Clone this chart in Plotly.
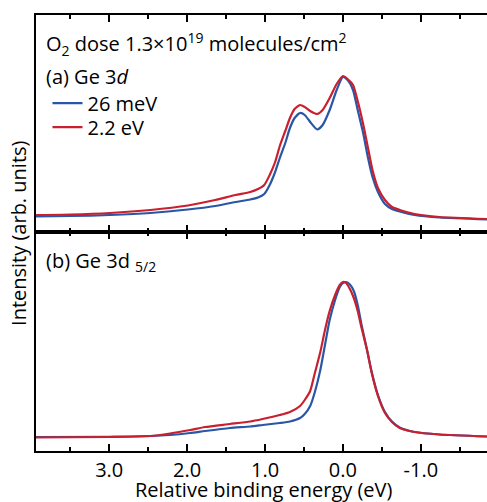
import plotly.graph_objects as go

# ---- data (arb. units) ----
energy_a = [3.94, 3.50, 2.99, 2.47, 1.99, 1.64, 1.38, 1.19, 1.09, 1.01, 0.94, 0.87, 0.81, 0.74,
            0.68, 0.62, 0.55, 0.49, 0.42, 0.33, 0.26, 0.17, 0.08, 0.00, -0.06, -0.13, -0.19,
            -0.26, -0.32, -0.38, -0.45, -0.54, -0.63, -0.73, -0.92, -1.24, -1.85]
a_26meV = [15.5, 16, 17, 19, 22.5, 26, 30, 32.5, 34.5, 38, 47, 60, 74, 89, 104, 114, 119, 117,
           110, 102.5, 107, 122, 142, 155, 152, 142, 122, 99, 75, 55, 40, 28, 23, 20.5, 17,
           14.5, 12.5]
a_2p2eV = [17, 17.5, 19, 22, 26.5, 32, 37, 40, 43, 47, 57, 70, 86, 101, 114, 123, 127, 125, 121,
           118, 122, 134, 148, 156, 153, 147, 131, 108, 85, 62, 44, 32, 25, 22, 18, 15, 13]

energy_b = [3.94, 2.99, 2.47, 2.22, 1.96, 1.77, 1.45, 1.19, 1.03, 0.81, 0.68, 0.55, 0.49, 0.42,
            0.36, 0.29, 0.23, 0.17, 0.10, 0.04, 0.00, -0.04, -0.09, -0.14, -0.19, -0.24, -0.31,
            -0.37, -0.45, -0.54, -0.63, -0.73, -0.92, -1.24, -1.85]
b_26meV = [14, 14.2, 15, 16, 18, 20, 23, 24.5, 26, 28, 29.5, 33, 37, 45, 59, 81, 106, 131, 151,
           164, 168, 169, 166.5, 160, 146, 126, 101, 79, 56, 39, 29.5, 23.5, 19, 16.5, 14.5]
b_2p2eV = [13.5, 14, 15, 17.5, 21, 24, 27, 29.5, 32, 36, 39, 45, 51, 60, 78, 99, 121, 140, 156,
           166, 169, 168, 162, 153, 140, 123, 101, 78, 55, 38, 29, 23, 19, 16.5, 14.5]

major_ticks = [3.0, 2.0, 1.0, 0.0, -1.0]
major_labels = ["3.0", "2.0", "1.0", "0.0", "-1.0"]
minor_ticks = [3.5, 2.5, 1.5, 0.5, -0.5, -1.5]

x_range = [3.94, -1.85]
ya_range = [0, 217]
yb_range = [0, 219]

BLUE = "#2a56a6"
RED = "#c8202f"
FONT = "Open Sans"
FS = 20

fig = go.Figure()
fig.add_trace(go.Scatter(x=energy_a, y=a_26meV, mode="lines", name="26 meV", legend="legend",
                         line=dict(color=BLUE, width=2.2, shape="spline", smoothing=0.6),
                         xaxis="x", yaxis="y"))
fig.add_trace(go.Scatter(x=energy_a, y=a_2p2eV, mode="lines", name="2.2 eV", legend="legend2",
                         line=dict(color=RED, width=2.2, shape="spline", smoothing=0.6),
                         xaxis="x", yaxis="y"))
fig.add_trace(go.Scatter(x=energy_b, y=b_26meV, mode="lines", showlegend=False,
                         line=dict(color=BLUE, width=2.2, shape="spline", smoothing=0.6),
                         xaxis="x2", yaxis="y2"))
fig.add_trace(go.Scatter(x=energy_b, y=b_2p2eV, mode="lines", showlegend=False,
                         line=dict(color=RED, width=2.2, shape="spline", smoothing=0.6),
                         xaxis="x2", yaxis="y2"))

split = (yb_range[1] - yb_range[0]) / (ya_range[1] - ya_range[0] + yb_range[1] - yb_range[0])
legcommon = dict(xanchor="left", yanchor="middle", bgcolor="rgba(0,0,0,0)",
                 font=dict(size=FS), itemwidth=30)
xcommon = dict(range=x_range, showline=True, linecolor="black", linewidth=2, mirror="ticks",
               ticks="inside", ticklen=7, tickwidth=2, tickcolor="black",
               tickmode="array", tickvals=major_ticks, ticktext=major_labels,
               minor=dict(ticks="inside", ticklen=4, tickwidth=2, tickcolor="black",
                          tickmode="array", tickvals=minor_ticks, showgrid=False),
               showgrid=False, zeroline=False, automargin=False, layer="above traces")
fig.update_layout(
    width=487, height=502,
    margin=dict(l=36, r=0, t=15, b=51, autoexpand=False),
    paper_bgcolor="white", plot_bgcolor="white",
    font=dict(family=FONT, size=FS, color="black"),
    showlegend=True,
    legend=dict(x=0.0255, y=0.798, **legcommon),
    legend2=dict(x=0.0255, y=0.743, **legcommon),
    xaxis=dict(**xcommon, anchor="y", showticklabels=False),
    xaxis2=dict(**xcommon, anchor="y2", showticklabels=True, tickfont=dict(size=FS),
                ticklabelstandoff=0),
    yaxis=dict(domain=[split, 1], range=ya_range, showline=True, linecolor="black",
               linewidth=2, showticklabels=False, ticks="", showgrid=False, zeroline=False,
               automargin=False),
    yaxis2=dict(domain=[0, split], range=yb_range, showline=True, linecolor="black",
                linewidth=2, showticklabels=False, ticks="", showgrid=False, zeroline=False,
                automargin=False),
)

fig.add_annotation(xref="paper", yref="paper", x=0.0177, y=0.9335, xanchor="left",
                   yanchor="middle", showarrow=False,
                   text="O<sub>2</sub> dose 1.3×10<sup>19</sup> molecules/cm<sup>2</sup>",
                   font=dict(size=FS))
fig.add_annotation(xref="paper", yref="paper", x=0.0177, y=0.86, xanchor="left",
                   yanchor="middle", showarrow=False, text="(a) Ge 3<i>d</i>",
                   font=dict(size=FS))
fig.add_annotation(xref="paper", yref="paper", x=0.0177, y=0.4335, xanchor="left",
                   yanchor="middle", showarrow=False, text="(b) Ge 3d <sub>5/2</sub>",
                   font=dict(size=FS))
fig.add_annotation(xref="paper", yref="paper", x=-0.04, y=0.5, xanchor="center",
                   yanchor="middle", showarrow=False, textangle=-90,
                   text="Intensity (arb. units)", font=dict(size=FS))
fig.add_annotation(xref="paper", yref="paper", x=0.505, y=-0.0894, xanchor="center",
                   yanchor="middle", showarrow=False,
                   text="Relative binding energy (eV)", font=dict(size=FS))

fig.write_html("out.html", config={"displayModeBar": False},
               post_script="document.body.style.margin='0';"
                           "document.body.style.overflow='hidden';")
